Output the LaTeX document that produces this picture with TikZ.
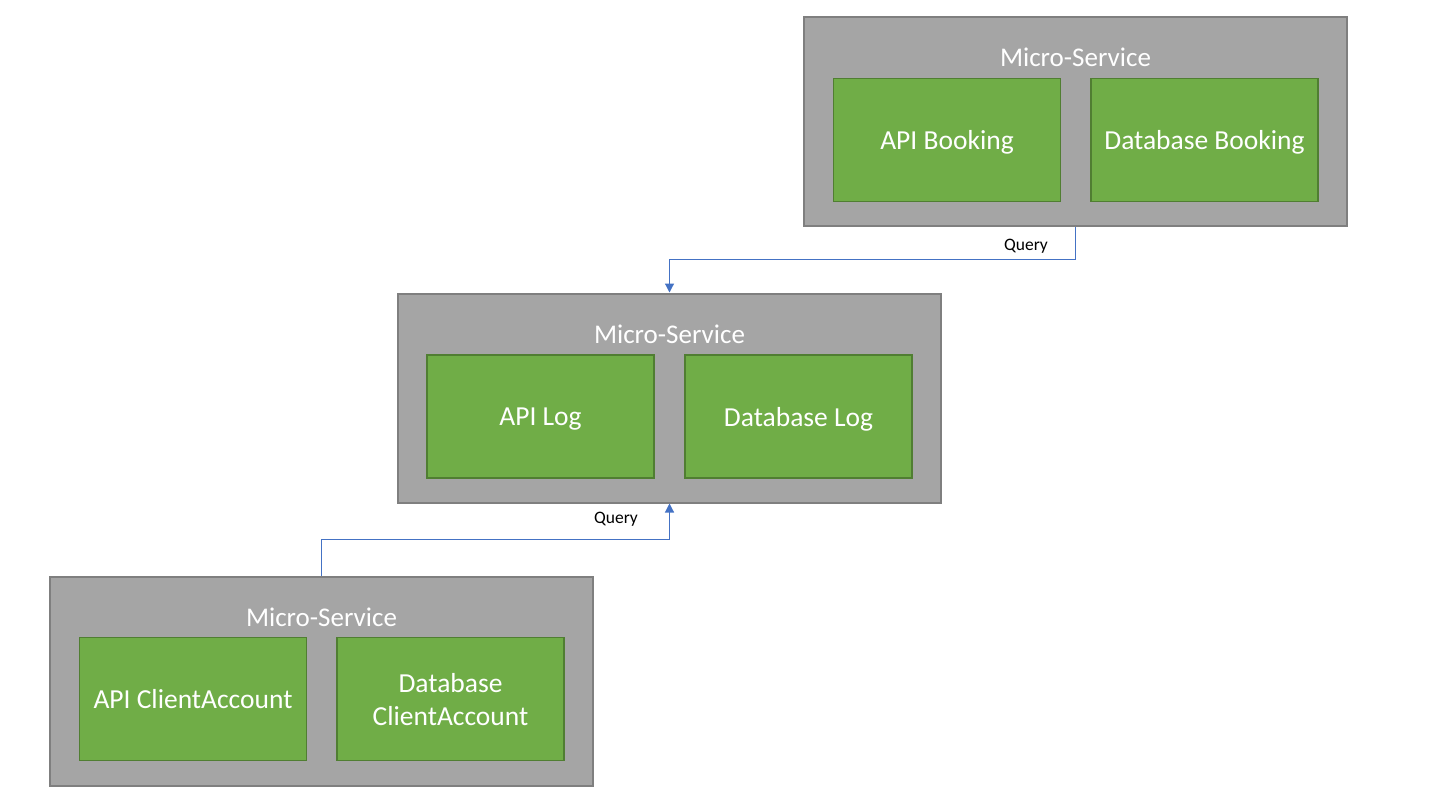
\documentclass[tikz,border=0pt]{standalone}
\usepackage{fontspec}
\setmainfont{Carlito}
\usetikzlibrary{arrows.meta,calc}
\definecolor{msgray}{HTML}{A5A5A5}
\definecolor{msedge}{HTML}{7F7F7F}
\definecolor{apigreen}{HTML}{70AD47}
\definecolor{apiedge}{HTML}{507E32}
\definecolor{qblue}{HTML}{4472C4}
\begin{document}
\begin{tikzpicture}[x=1pt,y=-1pt]
\tikzstyle{every node}+=[inner sep=0pt]
\tikzstyle{service}=[draw=msedge,fill=msgray,line width=2pt,minimum width=543pt,minimum height=209pt]
\tikzstyle{part}=[draw=apiedge,fill=apigreen,line width=1.5pt,minimum width=227pt,minimum height=123pt,text=white,align=center,text depth=0pt,font=\fontsize{27.5}{33}\selectfont]
\tikzstyle{title}=[text=white,font=\fontsize{27}{32}\selectfont]
\tikzstyle{query}=[font=\fontsize{17.5}{21}\selectfont]
\tikzstyle{link}=[draw=qblue,color=qblue,line width=1.2pt,-{Triangle[length=9pt,width=9pt]}]
\useasboundingbox (0,0) rectangle (1440,801);
% booking
\node [service] (booking) at (1075.5,121.5) {};
\node [title] (bookingtitle) at (1075.5,57) {Micro-Service};
\node [part] (apibooking) at (947,140) {API Booking};
\node [part] (dbbooking) at (1204.5,140) {Database Booking};
% log
\node [service] (log) at (669.5,398) {};
\node [title] (logtitle) at (669.5,334) {Micro-Service};
\node [part] (apilog) at (540.5,416.5) {API Log};
\node [part] (dblog) at (798.5,416.5) {Database Log};
% client account
\node [service] (client) at (321.5,681) {};
\node [title] (clienttitle) at (321.5,617) {Micro-Service};
\node [part] (apiclient) at (193,699) {API ClientAccount};
\node [part] (dbclient) at (450.5,699) {Database\\ClientAccount};
% queries
\coordinate (bend1) at ($(booking.south)!0.5!(log.north)$);
\coordinate (bend2) at ($(client.north)!0.5!(log.south)$);
\draw [link] (booking.south) |- (bend1) -| (log.north);
\draw [link] (client.north) |- (bend2) -| (log.south);
\node [query] (query1) at (1026,246) {Query};
\node [query] (query2) at (616,519) {Query};
\end{tikzpicture}
\end{document}
